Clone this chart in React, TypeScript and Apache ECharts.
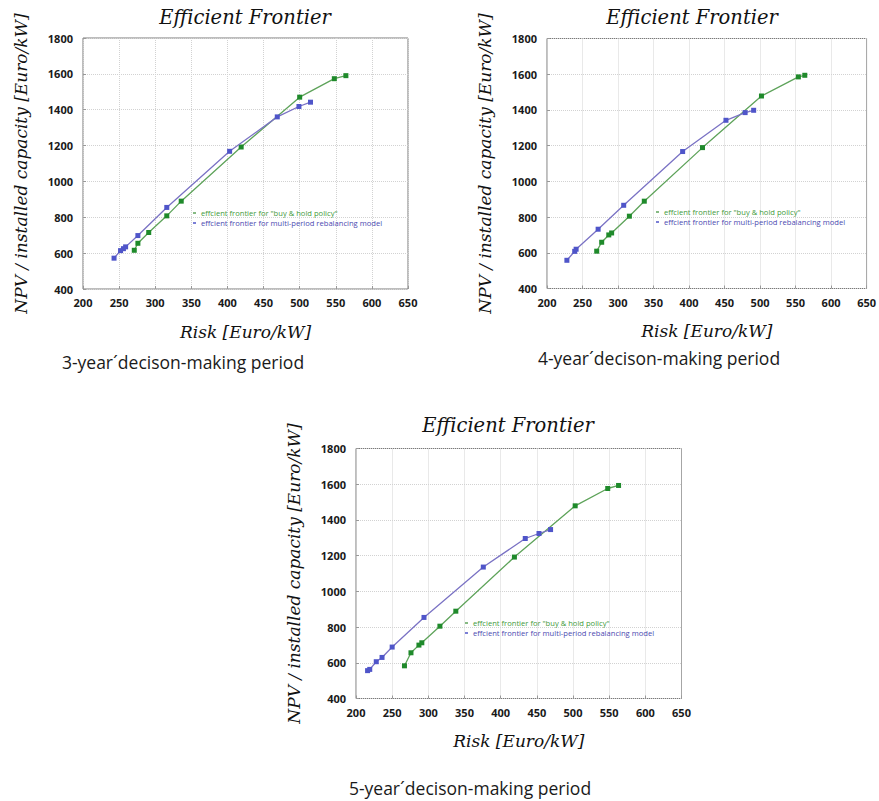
import React, { useEffect, useRef } from "react";
import * as echarts from "echarts";

// Efficient frontiers: NPV per installed capacity vs. risk, for three decision-making periods.
const holdName = 'effcient frontier for "buy & hold policy"';
const rebalName = "effcient frontier for multi-period rebalancing model";

const titleText = "Efficient Frontier";
const xName = "Risk [Euro/kW]";
const yName = "NPV / installed capacity [Euro/kW]";
const captions = [
  "3-year´decison-making period",
  "4-year´decison-making period",
  "5-year´decison-making period",
];

// 3-year period
const rebal3Risk = [243, 252, 256, 259, 276, 316, 403, 469, 499, 515];
const rebal3Npv = [572, 614, 625, 635, 698, 855, 1168, 1360, 1418, 1442];
const hold3Risk = [271, 276, 291, 316, 336, 419, 500, 548, 564];
const hold3Npv = [616, 655, 715, 808, 890, 1192, 1470, 1573, 1590];

// 4-year period
const rebal4Risk = [228, 239, 241, 272, 308, 391, 452, 479, 491];
const rebal4Npv = [558, 608, 620, 732, 866, 1167, 1342, 1385, 1398];
const hold4Risk = [270, 277, 287, 291, 316, 337, 419, 502, 554, 563];
const hold4Npv = [609, 659, 700, 711, 805, 889, 1189, 1478, 1585, 1594];

// 5-year period
const rebal5Risk = [216, 219, 228, 236, 250, 294, 376, 434, 453, 469];
const rebal5Npv = [556, 563, 606, 630, 688, 854, 1136, 1296, 1324, 1346];
const hold5Risk = [267, 276, 287, 291, 316, 338, 419, 503, 548, 563];
const hold5Npv = [583, 656, 699, 712, 805, 889, 1192, 1479, 1576, 1593];

const riskMin = 200;
const riskMax = 650;
const riskStep = 50;
const npvMin = 400;
const npvMax = 1800;
const npvStep = 200;

const HOLD_LINE = "#5ea35a";
const HOLD_MARK = "#1f8a2b";
const REBAL_LINE = "#7a72c4";
const REBAL_MARK = "#4f55c9";

const pair = (xs: number[], ys: number[]) => xs.map((x, i) => [x, ys[i]]);

const panels = [
  {
    grid: { left: 83, top: 38, width: 325, height: 251 },
    legend: { left: 193, top: 209 },
    title: [245, 17],
    caption: [183, 362],
    rebal: pair(rebal3Risk, rebal3Npv),
    hold: pair(hold3Risk, hold3Npv),
  },
  {
    grid: { left: 547, top: 38.5, width: 325, height: 250 },
    legend: { left: 656, top: 208 },
    title: [692, 17],
    caption: [659, 358],
    rebal: pair(rebal4Risk, rebal4Npv),
    hold: pair(hold4Risk, hold4Npv),
  },
  {
    grid: { left: 356, top: 448.5, width: 325.5, height: 250 },
    legend: { left: 465, top: 619 },
    title: [508, 425],
    caption: [470, 788],
    rebal: pair(rebal5Risk, rebal5Npv),
    hold: pair(hold5Risk, hold5Npv),
  },
];

const serifItalic = {
  fontFamily: "DejaVu Serif",
  fontStyle: "italic" as const,
  color: "#111",
};

const tickLabel = {
  fontFamily: "Open Sans",
  fontWeight: "bold" as const,
  fontSize: 11,
  color: "#1a1a1a",
  formatter: (v: number) => String(v),
};

export default function App() {
  const ref = useRef<HTMLDivElement>(null);

  useEffect(() => {
    if (!ref.current) return;
    const chart = echarts.init(ref.current, undefined, { renderer: "svg" });

    const grids = panels.map((p) => ({
      ...p.grid,
      show: true,
      borderColor: "#7a7a7a",
      borderWidth: 1,
      backgroundColor: "transparent",
    }));

    const splitLine = {
      show: true,
      lineStyle: { color: "#d2d2d2", type: "dotted" as const, width: 1 },
    };
    const axisTick = { show: true, inside: true, length: 3, lineStyle: { color: "#999" } };

    const xAxes = panels.map((_, i) => ({
      type: "value" as const,
      gridIndex: i,
      min: riskMin,
      max: riskMax,
      interval: riskStep,
      name: xName,
      nameLocation: "middle" as const,
      nameGap: 34,
      nameTextStyle: { ...serifItalic, fontSize: 17 },
      axisLine: { show: false },
      axisTick,
      axisLabel: { ...tickLabel, margin: 8 },
      splitLine,
    }));

    const yAxes = panels.map((_, i) => ({
      type: "value" as const,
      gridIndex: i,
      min: npvMin,
      max: npvMax,
      interval: npvStep,
      name: yName,
      nameLocation: "middle" as const,
      nameGap: 54,
      nameTextStyle: { ...serifItalic, fontSize: 17 },
      axisLine: { show: false },
      axisTick,
      axisLabel: { ...tickLabel, margin: 10 },
      splitLine,
    }));

    const series: any[] = [];
    panels.forEach((p, i) => {
      series.push({
        type: "line",
        name: holdName,
        xAxisIndex: i,
        yAxisIndex: i,
        data: p.hold,
        symbol: "rect",
        symbolSize: 5,
        itemStyle: { color: HOLD_MARK },
        lineStyle: { color: HOLD_LINE, width: 1.3 },
        z: 3,
      });
      series.push({
        type: "line",
        name: rebalName,
        xAxisIndex: i,
        yAxisIndex: i,
        data: p.rebal,
        symbol: "rect",
        symbolSize: 5,
        itemStyle: { color: REBAL_MARK },
        lineStyle: { color: REBAL_LINE, width: 1.3 },
        z: 4,
      });
    });

    const legends = panels.map((p) => ({
      left: p.legend.left,
      top: p.legend.top,
      orient: "vertical" as const,
      padding: 0,
      itemGap: 2,
      itemWidth: 3,
      itemHeight: 1.5,
      icon: "rect",
      selectedMode: false,
      textStyle: { fontFamily: "Open Sans", fontSize: 7.6, padding: [0, 0, 0, 0] },
      data: [
        { name: holdName, itemStyle: { color: HOLD_LINE }, textStyle: { color: "#3f9a3a" } },
        { name: rebalName, itemStyle: { color: REBAL_MARK }, textStyle: { color: "#4b49b0" } },
      ],
    }));

    const graphics: any[] = [];
    panels.forEach((p, i) => {
      graphics.push({
        type: "text",
        x: p.title[0],
        y: p.title[1],
        style: {
          text: titleText,
          fontFamily: "DejaVu Serif",
          fontStyle: "italic",
          fontSize: 19.5,
          fill: "#111",
          textAlign: "center",
          textVerticalAlign: "middle",
        },
      });
      graphics.push({
        type: "text",
        x: p.caption[0],
        y: p.caption[1],
        style: {
          text: captions[i],
          fontFamily: "Open Sans",
          fontSize: 17.5,
          fill: "#1a1a1a",
          textAlign: "center",
          textVerticalAlign: "middle",
        },
      });
    });

    chart.setOption({
      animation: false,
      backgroundColor: "#ffffff",
      grid: grids,
      xAxis: xAxes,
      yAxis: yAxes,
      legend: legends,
      series,
      graphic: graphics,
    });

    return () => chart.dispose();
  }, []);

  return (
    <div
      ref={ref}
      style={{ position: "absolute", left: 0, top: 0, width: 879, height: 801, background: "#fff" }}
    />
  );
}
